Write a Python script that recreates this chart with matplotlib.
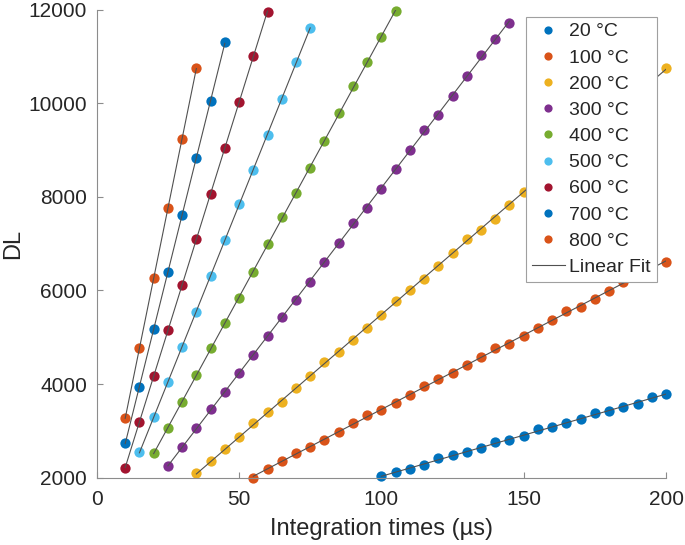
import numpy as np
import matplotlib
matplotlib.use("Agg")
import matplotlib.pyplot as plt

plt.rcParams['font.family'] = ['Liberation Sans', 'DejaVu Sans']

# integration times (us) and measured DL for each temperature
t_20 = [100, 105, 110, 115, 120, 125, 130, 135, 140, 145, 150, 155, 160, 165, 170,
        175, 180, 185, 190, 195, 200]
dl_20 = [2036, 2115, 2192, 2265, 2414, 2478, 2549, 2627, 2769, 2805, 2890, 3040, 3089,
         3161, 3246, 3375, 3431, 3503, 3573, 3729, 3787]

t_100 = [55, 60, 65, 70, 75, 80, 85, 90, 95, 100, 105, 110, 115, 120, 125, 130, 135,
         140, 145, 150, 155, 160, 165, 170, 175, 180, 185, 190, 195, 200]
dl_100 = [2000, 2179, 2356, 2534, 2649, 2805, 2982, 3161, 3339, 3445, 3601, 3766, 3960,
          4100, 4242, 4406, 4583, 4762, 4862, 5030, 5190, 5367, 5565, 5651, 5815, 5992,
          6184, 6330, 6470, 6599]

t_200 = [35, 40, 45, 50, 55, 60, 65, 70, 75, 80, 85, 90, 95, 100, 105, 110, 115, 120,
         125, 130, 135, 140, 145, 150, 155, 160, 165, 170, 175, 180, 185, 190, 195, 200]
dl_200 = [2107, 2357, 2606, 2875, 3161, 3396, 3623, 3908, 4171, 4464, 4677, 4940, 5203,
          5473, 5779, 6007, 6236, 6520, 6804, 7090, 7288, 7523, 7815, 8113, 8370, 8630,
          8900, 9160, 9420, 9690, 9950, 10210, 10480, 10741]

t_300 = [25, 30, 35, 40, 45, 50, 55, 60, 65, 70, 75, 80, 85, 90, 95, 100, 105, 110,
         115, 120, 125, 130, 135, 140, 145]
dl_300 = [2250, 2649, 3055, 3460, 3836, 4229, 4620, 5025, 5437, 5794, 6184, 6599, 7017,
          7431, 7764, 8170, 8590, 8992, 9434, 9739, 10149, 10576, 11024, 11360, 11722]

t_400 = [20, 25, 30, 35, 40, 45, 50, 55, 60, 65, 70, 75, 80, 85, 90, 95, 100, 105]
dl_400 = [2521, 3067, 3620, 4193, 4763, 5296, 5830, 6398, 6983, 7559, 8071, 8625, 9188,
          9780, 10362, 10869, 11415, 11971]

t_500 = [15, 20, 25, 30, 35, 40, 45, 50, 55, 60, 65, 70, 75]
dl_500 = [2542, 3302, 4040, 4797, 5544, 6306, 7075, 7837, 8569, 9316, 10085, 10882, 11616]

t_600 = [10, 15, 20, 25, 30, 35, 40, 45, 50, 55, 60]
dl_600 = [2213, 3183, 4171, 5153, 6114, 7090, 8057, 9045, 10027, 11003, 11949]

t_700 = [10, 15, 20, 25, 30, 35, 40, 45]
dl_700 = [2734, 3943, 5175, 6398, 7606, 8819, 10049, 11296]

t_800 = [10, 15, 20, 25, 30, 35]
dl_800 = [3268, 4763, 6257, 7751, 9245, 10741]

labels = ['20 °C', '100 °C', '200 °C', '300 °C', '400 °C', '500 °C', '600 °C',
          '700 °C', '800 °C']
times = [t_20, t_100, t_200, t_300, t_400, t_500, t_600, t_700, t_800]
values = [dl_20, dl_100, dl_200, dl_300, dl_400, dl_500, dl_600, dl_700, dl_800]

# matlab default colour order
colors = ['#0072BD', '#D95319', '#EDB120', '#7E2F8E', '#77AC30', '#4DBEEE',
          '#A2142F', '#0072BD', '#D95319']

fig = plt.figure(figsize=(6.85, 5.45), dpi=100)
ax = fig.add_axes([0.1412, 0.1235, 0.8311, 0.859])

handles = []
for t, v, c, lab in zip(times, values, colors, labels):
    h, = ax.plot(t, v, 'o', ms=7.4, mfc=c, mec='none', label=lab, clip_on=False,
                 zorder=2)
    handles.append(h)

# linear fits drawn over the points
fit_handle = None
for t, v in zip(times, values):
    p = np.polyfit(t, v, 1)
    tt = np.array([t[0], t[-1]])
    fit_handle, = ax.plot(tt, np.polyval(p, tt), '-', color='#505050', lw=0.8,
                          zorder=3, label='Linear Fit')
handles.append(fit_handle)

ax.set_xlim(0, 200)
ax.set_ylim(2000, 12000)
ax.set_xticks([0, 50, 100, 150, 200])
ax.set_yticks([2000, 4000, 6000, 8000, 10000, 12000])
ax.spines['top'].set_visible(False)
ax.spines['right'].set_visible(False)
for s in ['left', 'bottom']:
    ax.spines[s].set_color('#8c8c8c')
    ax.spines[s].set_linewidth(0.8)
ax.tick_params(direction='in', length=4, width=0.8, color='#8c8c8c',
               labelsize=15, labelcolor='#262626')
ax.tick_params(axis='y', pad=7)
ax.tick_params(axis='x', pad=9)

ax.set_xlabel('Integration times (µs)', fontsize=17, color='#262626', labelpad=6)
ax.set_ylabel('DL', fontsize=17, color='#262626', labelpad=3)

leg = ax.legend(handles=handles, loc='upper right', bbox_to_anchor=(0.984, 0.984),
                borderaxespad=0, fontsize=14, frameon=True, fancybox=False,
                framealpha=1, edgecolor='#a0a0a0', handlelength=1.7,
                handletextpad=0.25, labelspacing=0.44, borderpad=0.3,
                markerscale=0.8)
leg.get_frame().set_linewidth(0.8)
for txt in leg.get_texts():
    txt.set_color('#262626')
leg.set_zorder(5)

fig.savefig('out.png', dpi=100)
